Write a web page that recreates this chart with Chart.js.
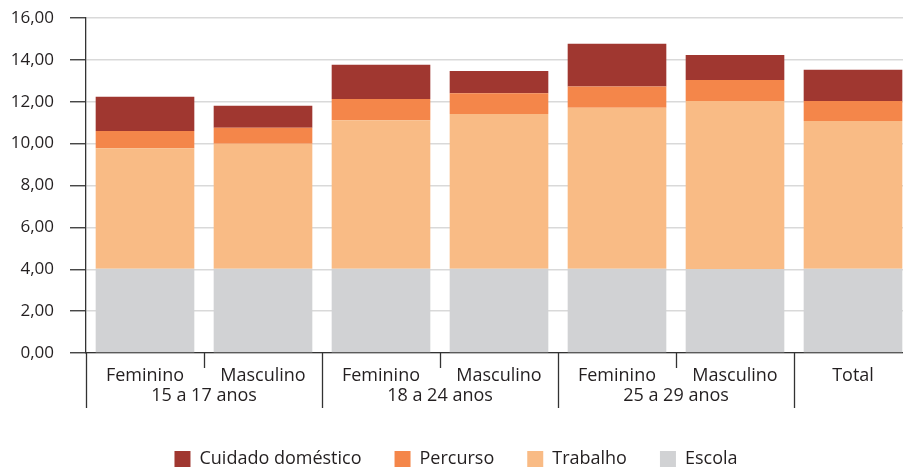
<!DOCTYPE html>
<html>
<head>
<meta charset="utf-8">
<script src="https://cdn.jsdelivr.net/npm/chart.js@4/dist/chart.umd.min.js"></script>
<style>
html,body{margin:0;padding:0;background:#fff;overflow:hidden;}
#wrap{width:903px;height:467px;position:relative;overflow:hidden;}
</style>
</head>
<body>
<div id="wrap"><canvas id="c" width="912" height="467"></canvas></div>
<script>
const categories = ['Feminino','Masculino','Feminino','Masculino','Feminino','Masculino','Total'];
const groupLabels = ['15 a 17 anos','18 a 24 anos','25 a 29 anos'];
const groupStarts = [0, 2, 4];
const groupEnds = [1, 3, 5];
const escola = [4.02, 4.02, 4.02, 4.02, 4.02, 4.00, 4.02];
const trabalho = [5.76, 5.97, 7.10, 7.39, 7.69, 8.03, 7.06];
const percurso = [0.82, 0.77, 1.01, 1.00, 1.02, 1.01, 0.95];
const cuidado = [1.64, 1.05, 1.64, 1.06, 2.04, 1.19, 1.50];
const yTicks = [0, 2, 4, 6, 8, 10, 12, 14, 16];

const FONT = '"Open Sans", sans-serif';
const TXT = '#231f20';

const labelsPlugin = {
  id: 'multiLabels',
  afterDraw(chart) {
    const ctx = chart.ctx;
    const x = chart.scales.x;
    const area = chart.chartArea;
    const bottom = area.bottom;
    const px = i => x.getPixelForValue(i);
    const boundary = i => (px(i) + px(i + 1)) / 2;
    ctx.save();
    ctx.strokeStyle = '#333';
    ctx.lineWidth = 1.3;
    const longEnd = bottom + 55;
    const shortEnd = bottom + 15;
    const lines = [[area.left, longEnd]];
    for (let g = 0; g < groupStarts.length; g++) {
      lines.push([boundary(groupStarts[g]), shortEnd]);
      lines.push([boundary(groupEnds[g]), longEnd]);
    }
    lines.forEach(([lx, ly]) => {
      ctx.beginPath();
      ctx.moveTo(Math.round(lx) + 0.5, bottom);
      ctx.lineTo(Math.round(lx) + 0.5, ly);
      ctx.stroke();
    });
    ctx.fillStyle = TXT;
    ctx.font = '18px ' + FONT;
    ctx.textAlign = 'center';
    ctx.textBaseline = 'middle';
    categories.forEach((c, i) => ctx.fillText(c, px(i), bottom + 23));
    groupLabels.forEach((g, k) => {
      const cx = (px(groupStarts[k]) + px(groupEnds[k])) / 2;
      ctx.fillText(g, cx, bottom + 43);
    });
    ctx.restore();
  }
};

new Chart(document.getElementById('c'), {
  type: 'bar',
  data: {
    labels: categories,
    datasets: [
      { label: 'Escola', data: escola, backgroundColor: '#d1d2d4' },
      { label: 'Trabalho', data: trabalho, backgroundColor: '#f9bb85' },
      { label: 'Percurso', data: percurso, backgroundColor: '#f4864a' },
      { label: 'Cuidado doméstico', data: cuidado, backgroundColor: '#a03730' }
    ]
  },
  options: {
    responsive: false,
    animation: false,
    devicePixelRatio: 1,
    layout: { padding: { top: 18, right: 0, left: 0, bottom: -11 } },
    datasets: { bar: { barPercentage: 0.836, categoryPercentage: 1.0 } },
    plugins: {
      legend: {
        position: 'bottom',
        reverse: true,
        labels: {
          boxWidth: 16, boxHeight: 16, padding: 33,
          color: TXT,
          font: { family: FONT, size: 18 }
        }
      },
      tooltip: { enabled: false }
    },
    scales: {
      x: {
        stacked: true,
        offset: true,
        grid: { display: false },
        border: { display: true, color: '#333', width: 1.3 },
        ticks: { display: false },
        afterFit(s) { s.height = 64; }
      },
      y: {
        stacked: true,
        min: 0, max: 16,
        afterBuildTicks(s) { s.ticks = yTicks.map(v => ({ value: v })); },
        grid: { color: '#d9d9d9', lineWidth: 1.5, tickColor: '#333', tickLength: 16, tickWidth: 1.3 },
        border: { display: true, color: '#333', width: 1.3 },
        ticks: {
          padding: 16,
          color: TXT,
          font: { family: FONT, size: 17 },
          callback: v => v.toFixed(2).replace('.', ',')
        },
        afterFit(s) { s.width = 86; s.paddingTop = 0; s.paddingBottom = 0; }
      }
    }
  },
  plugins: [labelsPlugin]
});
</script>
</body>
</html>
